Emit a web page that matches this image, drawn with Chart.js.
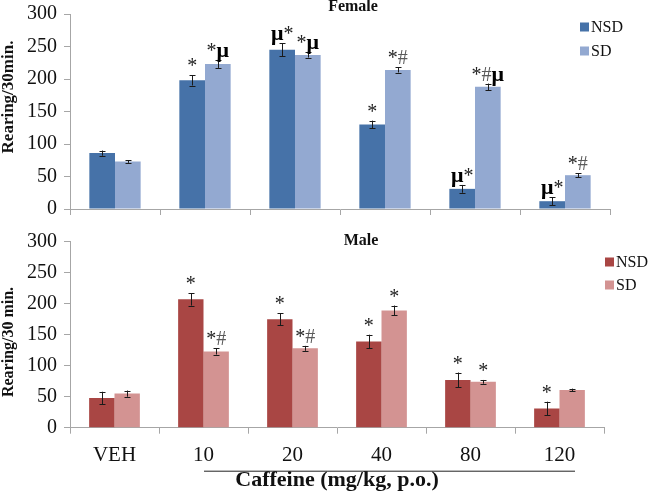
<!DOCTYPE html>
<html><head><meta charset="utf-8">
<script src="https://cdn.jsdelivr.net/npm/chart.js@4"></script>
<style>
html,body{margin:0;padding:0;background:#fff;}
#wrap{position:relative;width:650px;height:494px;overflow:hidden;background:#fff}
.pane{position:absolute;left:0;width:650px}
</style></head><body>
<div id="wrap">
<div class="pane" style="top:0;height:225px"><canvas id="top" width="650" height="225"></canvas></div>
<div class="pane" style="top:225px;height:269px"><canvas id="bot" width="650" height="269"></canvas></div>
</div>
<script>
const categories = ['VEH', '10', '20', '40', '80', '120'];
const seriesNames = ['NSD', 'SD'];
const yTicks = [0, 50, 100, 150, 200, 250, 300];

const femaleNSD = [86, 198, 245, 130, 31, 12];
const femaleSD = [73, 223, 237, 214, 188, 52];
const femaleNSDErr = [4, 8, 10, 6, 6, 6];
const femaleSDErr = [2, 6, 4, 4, 5, 3];
const femaleNSDMarks = ['', '*', 'μ*', '*', 'μ*', 'μ*'];
const femaleSDMarks = ['', '*μ', '*μ', '*#', '*#μ', '*#'];

const maleNSD = [48, 207, 175, 139, 77, 31];
const maleSD = [55, 123, 128, 189, 74, 61];
const maleNSDErr = [10, 10, 10, 11, 12, 11];
const maleSDErr = [5, 5, 4, 8, 3, 2];
const maleNSDMarks = ['', '*', '*', '*', '*', '*'];
const maleSDMarks = ['', '*#', '*#', '*', '*', ''];

const FONT = 'Liberation Serif';
const AXIS = '#a6a6a6';

const extras = {
  id: 'extras',
  afterDraw(chart, args, o) {
    const ctx = chart.ctx;
    const ys = chart.scales.y, xs = chart.scales.x;
    ctx.save();
    chart.data.datasets.forEach((ds, di) => {
      const meta = chart.getDatasetMeta(di);
      meta.data.forEach((bar, i) => {
        const v = ds.data[i], e = o.errors[di][i];
        const yt = ys.getPixelForValue(v + e), yb = ys.getPixelForValue(v - e);
        const bx = Math.round(bar.x) + 0.5;
        ctx.strokeStyle = '#1a1a1a'; ctx.lineWidth = 1;
        ctx.beginPath();
        ctx.moveTo(bx, yt); ctx.lineTo(bx, yb);
        ctx.moveTo(bx - 3, Math.round(yt) + 0.5); ctx.lineTo(bx + 3, Math.round(yt) + 0.5);
        ctx.moveTo(bx - 3, Math.round(yb) + 0.5); ctx.lineTo(bx + 3, Math.round(yb) + 0.5);
        ctx.stroke();
        const m = o.marks[di][i];
        if (m) {
          const parts = [...m].map(ch => ({
            ch,
            font: ch === 'μ' ? 'bold 22px ' + FONT : '20px ' + FONT,
            color: ch === '#' ? '#5a5a5a' : (ch === 'μ' ? '#000' : '#222')
          }));
          let w = 0;
          parts.forEach(p => { ctx.font = p.font; p.w = ctx.measureText(p.ch).width; w += p.w; });
          let cx = bar.x - w / 2;
          ctx.textBaseline = 'alphabetic'; ctx.textAlign = 'left';
          parts.forEach(p => { ctx.font = p.font; ctx.fillStyle = p.color; ctx.fillText(p.ch, cx, yt - 3); cx += p.w; });
        }
      });
    });
    // legend
    const lg = o.legend;
    ctx.font = '16px ' + FONT;
    ctx.textBaseline = 'middle'; ctx.textAlign = 'left';
    chart.data.datasets.forEach((ds, di) => {
      const cy = lg.y + di * lg.gap;
      ctx.fillStyle = ds.backgroundColor;
      ctx.fillRect(lg.x, cy - 4.5, 9, 9);
      ctx.fillStyle = '#111';
      ctx.fillText(ds.label, lg.x + 11, cy + 1);
    });
    // panel title
    ctx.font = 'bold 16px ' + FONT;
    ctx.textAlign = 'center'; ctx.textBaseline = 'middle';
    ctx.fillStyle = '#111';
    ctx.fillText(o.title.text, o.title.x, o.title.y);
    // y axis title
    ctx.save();
    ctx.translate(9, o.ytitle.y);
    ctx.rotate(-Math.PI / 2);
    ctx.font = 'bold ' + o.ytitle.size + 'px ' + FONT;
    ctx.fillText(o.ytitle.text, 0, 0);
    ctx.restore();
    // underline for caffeine doses
    if (o.underline) {
      const x1 = Math.round(xs.getPixelForValue(1)), x2 = Math.round(xs.getPixelForValue(5)) + 15;
      ctx.strokeStyle = '#222'; ctx.lineWidth = 1;
      ctx.beginPath();
      ctx.moveTo(x1, o.underline + 0.5); ctx.lineTo(x2, o.underline + 0.5);
      ctx.stroke();
    }
    ctx.restore();
  }
};

function makeChart(id, nsd, sd, colors, errs, marks, opts) {
  return new Chart(document.getElementById(id), {
    type: 'bar',
    data: {
      labels: categories,
      datasets: [
        { label: seriesNames[0], data: nsd, backgroundColor: colors[0], categoryPercentage: 0.57, barPercentage: 1.0 },
        { label: seriesNames[1], data: sd, backgroundColor: colors[1], categoryPercentage: 0.57, barPercentage: 1.0 }
      ]
    },
    options: {
      responsive: false,
      animation: false,
      events: [],
      layout: { padding: { top: opts.padTop, right: opts.padRight, left: 0, bottom: 0 } },
      plugins: {
        legend: { display: false },
        tooltip: { enabled: false },
        title: { display: false },
        extras: {
          errors: errs, marks: marks,
          legend: opts.legend, title: opts.title, ytitle: opts.ytitle, underline: opts.underline
        }
      },
      scales: {
        x: {
          grid: { display: true, drawOnChartArea: false, drawTicks: true, tickLength: 6, color: AXIS, offset: true },
          border: { display: true, color: AXIS, width: 1 },
          ticks: { display: opts.showX, font: { family: FONT, size: 21 }, color: '#111', padding: 9 },
          title: opts.xtitle ? { display: true, text: opts.xtitle, font: { family: FONT, size: 22, weight: 'bold' }, color: '#111', padding: { top: 0, bottom: 0 } } : { display: false },
          afterFit: s => { s.height = opts.xHeight; s.paddingLeft = 0; s.paddingRight = 0; s.paddingTop = 0; s.paddingBottom = 0; }
        },
        y: {
          min: 0, max: 300,
          afterBuildTicks: s => { s.ticks = yTicks.map(v => ({ value: v })); },
          grid: { display: true, drawOnChartArea: false, drawTicks: true, tickLength: 6, color: AXIS },
          border: { display: true, color: AXIS, width: 1 },
          ticks: { font: { family: FONT, size: 20 }, color: '#111', padding: 7 },
          afterFit: s => { s.width = 70; s.paddingTop = 0; s.paddingBottom = 0; s.paddingLeft = 0; s.paddingRight = 0; }
        }
      }
    },
    plugins: [extras]
  });
}

makeChart('top', femaleNSD, femaleSD, ['#4672a8', '#93a9d1'],
  [femaleNSDErr, femaleSDErr], [femaleNSDMarks, femaleSDMarks],
  { padTop: 14, padRight: 40, xHeight: 16, showX: false,
    legend: { x: 580, y: 27, gap: 24 },
    title: { text: 'Female', x: 353, y: 7 },
    ytitle: { text: 'Rearing/30min.', y: 97, size: 17 } });

makeChart('bot', maleNSD, maleSD, ['#a94644', '#d39392'],
  [maleNSDErr, maleSDErr], [maleNSDMarks, maleSDMarks],
  { padTop: 16.7, padRight: 46, xHeight: 66.3, showX: true,
    xtitle: 'Caffeine (mg/kg, p.o.)',
    legend: { x: 605, y: 37, gap: 23 },
    title: { text: 'Male', x: 361, y: 15.5 },
    ytitle: { text: 'Rearing/30 min.', y: 117, size: 16 },
    underline: 245.7 });
</script>
</body></html>
